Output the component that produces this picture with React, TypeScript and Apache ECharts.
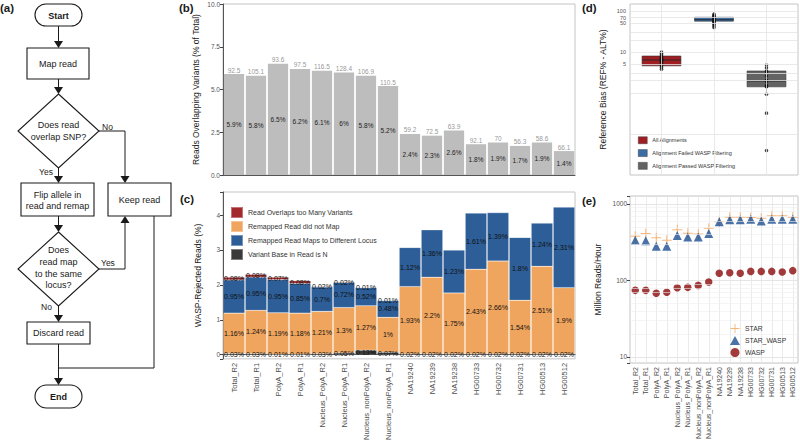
import React, { useEffect, useRef } from 'react';
import * as echarts from 'echarts';

// ---------- data ----------
const samples = ['Total_R2', 'Total_R1', 'PolyA_R2', 'PolyA_R1', 'Nucleus_PolyA_R2', 'Nucleus_PolyA_R1', 'Nucleus_nonPolyA_R2', 'Nucleus_nonPolyA_R1', 'NA19240', 'NA19239', 'NA19238', 'HG00733', 'HG00732', 'HG00731', 'HG00513', 'HG00512'];

// (b) reads overlapping variants (% of total) and total reads (millions)
const overlapPct = [5.9, 5.8, 6.5, 6.2, 6.1, 6, 5.8, 5.2, 2.4, 2.3, 2.6, 1.8, 1.9, 1.7, 1.9, 1.4];
const totalReads = [92.5, 105.1, 93.6, 97.5, 116.5, 128.4, 106.9, 110.5, 59.2, 72.5, 63.9, 92.1, 70, 56.3, 58.6, 66.1];

// (c) WASP-rejected reads (%) by reason
const variantBaseN = [0.03, 0.03, 0.01, 0.01, 0.03, 0.05, 0.13, 0.07, 0.02, 0.02, 0.02, 0.02, 0.02, 0.02, 0.02, 0.02];
const didNotMap = [1.16, 1.24, 1.19, 1.18, 1.21, 1.3, 1.27, 1, 1.93, 2.2, 1.75, 2.43, 2.66, 1.54, 2.51, 1.9];
const differentLocus = [0.95, 0.95, 0.95, 0.85, 0.7, 0.72, 0.52, 0.48, 1.12, 1.36, 1.23, 1.61, 1.39, 1.8, 1.24, 2.31];
const tooManyVariants = [0.08, 0.08, 0.07, 0.08, 0.02, 0.02, 0.01, 0.01, 0, 0, 0, 0, 0, 0, 0, 0];
const rejectNames = ['Read Overlaps too Many Variants', 'Remapped Read did not Map', 'Remapped Read Maps to Different Locus', 'Variant Base in Read is N'];

// (d) reference bias boxes: [min, Q1, median, Q3, max]
const biasGroups = ['All Alignments', 'Alignment Failed WASP Filtering', 'Alignment Passed WASP Filtering'];
const biasBoxAll = [3.8, 4.6, 6.4, 8.0, 10];
const biasBoxFailed = [40, 57, 62, 71, 85];
const biasBoxPassed = [0.93, 1.41, 1.96, 3.44, 4.8];
const biasPtsAll = [10, 9.3, 8.6, 8.0, 7.6, 7.1, 6.8, 6.5, 6.3, 6.0, 5.7, 5.3, 4.9, 4.6, 4.2, 3.8];
const biasPtsFailed = [85, 80, 76, 72, 70, 67, 65, 63, 61, 59, 57, 55, 52, 48, 44, 40];
const biasPtsPassed = [4.8, 4.15, 3.44, 3.3, 2.6, 2.07, 2.0, 1.9, 1.57, 1.45, 1.41, 0.93, 0.32, 0.039];
const biasLabelTicks = [100, 70, 50, 10, 5];

// (e) throughput (million reads / hour)
const starRate = [379, 411, 360, 336, 460, 415, 405, 479, 585, 668, 668, 665, 648, 700, 700, 668];
const starWaspRate = [336, 329, 280, 280, 385, 370, 368, 411, 585, 620, 620, 629, 600, 629, 629, 629];
const waspRate = [74, 74, 68, 70, 80, 81, 86, 95, 124, 126, 124, 131, 131, 131, 129, 134];
const rateMinorGrid = [20, 30, 40, 50, 60, 70, 80, 90, 200, 300, 400, 500, 600, 700, 800, 900];

// ---------- styles ----------
const FONT = '"Liberation Sans", Arial, Helvetica, sans-serif';
const INK = '#1a1a1a';
const C_RED = '#a3292d';
const C_ORANGE = '#f0a55e';
const C_BLUE = '#2d5e98';
const C_DARK = '#3a3a3a';

function txt(text: string, x: number, y: number, size = 9, bold = false, align = 'center') {
  return {
    type: 'text', x, y, z: 10,
    style: {
      text, fill: INK, fontSize: size, fontFamily: FONT, fontWeight: bold ? 'bold' : 'normal',
      textAlign: align, align, textVerticalAlign: 'middle', verticalAlign: 'middle',
    },
  };
}
function pline(points: number[][]) {
  return { type: 'polyline', z: 10, shape: { points }, style: { stroke: INK, lineWidth: 1, fill: null } };
}
function arrow(x: number, y: number, up = false) {
  const pts = up ? [[x - 4.5, y + 7], [x + 4.5, y + 7], [x, y]] : [[x - 4.5, y - 7], [x + 4.5, y - 7], [x, y]];
  return { type: 'polygon', z: 10, shape: { points: pts }, style: { fill: INK } };
}
function box(x: number, y: number, w: number, h: number, r = 0) {
  return { type: 'rect', z: 9, shape: { x, y, width: w, height: h, r }, style: { fill: '#fff', stroke: INK, lineWidth: 1.1 } };
}
function diamond(cx: number, top: number, bottom: number, left: number, right: number) {
  const cy = (top + bottom) / 2;
  return { type: 'polygon', z: 9, shape: { points: [[cx, top], [right, cy], [cx, bottom], [left, cy]] }, style: { fill: '#fff', stroke: INK, lineWidth: 1.1 } };
}

const flowchart = [
  box(35, 4, 47, 22, 11), txt('Start', 58.5, 15.5, 9, true),
  pline([[58.5, 26], [58.5, 42]]), arrow(58.5, 48),
  box(27, 48, 62, 31), txt('Map read', 58, 63.5),
  pline([[58.5, 79], [58.5, 88]]), arrow(58.5, 94),
  diamond(58.5, 94, 168, 18, 99), txt('Does read', 58.5, 125), txt('overlap SNP?', 58.5, 137),
  txt('No', 102, 127, 8.5, false, 'left'), pline([[99, 131], [125, 131], [125, 177]]), arrow(125, 183),
  txt('Yes', 46, 172, 8.5),
  pline([[58.5, 168], [58.5, 177]]), arrow(58.5, 183),
  box(21, 183, 73, 33), txt('Flip allele in', 57.5, 194.5), txt('read and remap', 57.5, 206),
  box(108, 183, 63, 33), txt('Keep read', 139.5, 199.5),
  pline([[58.5, 216], [58.5, 226]]), arrow(58.5, 232),
  diamond(58.5, 232, 306, 18, 99), txt('Does', 58.5, 250), txt('read map', 58.5, 262), txt('to the same', 58.5, 273.5), txt('locus?', 58.5, 285),
  txt('Yes', 101, 263, 8.5, false, 'left'), pline([[99, 269], [125, 269], [125, 222]]), arrow(125, 216, true),
  txt('No', 46.5, 307, 8.5),
  pline([[58.5, 306], [58.5, 316]]), arrow(58.5, 322),
  box(27, 322, 63, 22), txt('Discard read', 58.5, 333),
  pline([[58.5, 344], [58.5, 379]]), arrow(58.5, 385),
  pline([[154, 216], [154, 368], [58.5, 368]]),
  box(35, 385, 47, 23, 11.5), txt('End', 58.5, 396.5, 9, true),
];

const panelLabels = [
  txt('(a)', 0, 8, 11.5, true, 'left'),
  txt('(b)', 179, 8, 11.5, true, 'left'),
  txt('(c)', 180, 199, 11.5, true, 'left'),
  txt('(d)', 582, 8, 11.5, true, 'left'),
  txt('(e)', 582, 201, 11.5, true, 'left'),
];

const plusPath = 'path://M4.5,0H5.5V4.5H10V5.5H5.5V10H4.5V5.5H0V4.5H4.5Z';

function boxRender(params: any, api: any) {
  const x = api.value(0);
  const lo = api.coord([x, api.value(1)]);
  const q1 = api.coord([x, api.value(2)]);
  const med = api.coord([x, api.value(3)]);
  const q3 = api.coord([x, api.value(4)]);
  const hi = api.coord([x, api.value(5)]);
  const l = api.coord([x - 0.37, api.value(3)])[0];
  const r = api.coord([x + 0.37, api.value(3)])[0];
  const color = api.visual('color');
  return {
    type: 'group',
    children: [
      { type: 'line', shape: { x1: lo[0], y1: lo[1], x2: q1[0], y2: q1[1] }, style: { stroke: '#333', lineWidth: 1 } },
      { type: 'line', shape: { x1: q3[0], y1: q3[1], x2: hi[0], y2: hi[1] }, style: { stroke: '#333', lineWidth: 1 } },
      { type: 'rect', shape: { x: l, y: q3[1], width: r - l, height: Math.max(q1[1] - q3[1], 1) }, style: { fill: color, stroke: '#333', lineWidth: 0.6 } },
      { type: 'line', shape: { x1: l, y1: med[1], x2: r, y2: med[1] }, style: { stroke: '#2a2a2a', lineWidth: 1.1 } },
    ],
  };
}

const pctLabel = (p: any) => {
  const v = Array.isArray(p.value) ? p.value[1] : p.value;
  return v > 0 ? `${v}%` : '';
};

export default function App() {
  const ref = useRef<HTMLDivElement>(null);
  useEffect(() => {
    document.body.style.margin = '0';
    if (!ref.current) return;
    const chart = echarts.init(ref.current, undefined, { renderer: 'svg' });

    const axisNameStyle = { fontSize: 8.5, color: '#222', fontFamily: FONT };
    const tickLabel = { fontSize: 6.5, color: '#555', fontFamily: FONT, margin: 3 };

    const cSeries = [
      { name: rejectNames[3], data: variantBaseN, color: C_DARK },
      { name: rejectNames[1], data: didNotMap, color: C_ORANGE },
      { name: rejectNames[2], data: differentLocus, color: C_BLUE },
      { name: rejectNames[0], data: tooManyVariants, color: C_RED },
    ].map((s) => ({
      type: 'bar', name: s.name, data: s.data, stack: 'rej', xAxisIndex: 1, yAxisIndex: 1,
      barCategoryGap: '2%',
      itemStyle: { color: s.color, borderColor: 'rgba(255,255,255,0.35)', borderWidth: 0.5 },
      label: { show: true, position: 'inside', formatter: pctLabel, fontSize: 7, color: '#111', fontFamily: FONT },
    }));

    const biasBoxes = [biasBoxAll, biasBoxFailed, biasBoxPassed];
    const biasColors = ['#a01d22', '#3b6ea5', '#636363'];
    const dSeries = biasGroups.map((g, i) => ({
      type: 'custom', name: g, xAxisIndex: 2, yAxisIndex: 2, z: 3,
      itemStyle: { color: biasColors[i] },
      encode: { x: 0, y: [1, 2, 3, 4, 5] },
      data: [[i + 1, ...biasBoxes[i]]],
      renderItem: boxRender,
    }));
    const biasPts = [biasPtsAll, biasPtsFailed, biasPtsPassed];
    const dPoints = {
      type: 'scatter', name: 'bias points', xAxisIndex: 2, yAxisIndex: 2, z: 4,
      symbolSize: 3.5, itemStyle: { color: '#111' },
      data: biasPts.flatMap((arr, i) => arr.map((v) => [i + 1, v])),
    };
    const dGrid = {
      type: 'line', name: 'd grid', xAxisIndex: 2, yAxisIndex: 2, z: 1, data: [], silent: true,
      markLine: {
        silent: true, symbol: ['none', 'none'], animation: false,
        lineStyle: { color: '#e3e3e3', width: 0.8, type: 'solid' },
        label: { show: true, position: 'start', fontSize: 5.5, color: '#555', fontFamily: FONT, distance: 4 },
        data: [
          ...biasLabelTicks.map((v) => ({ yAxis: v, label: { formatter: String(v) } })),
          ...[1, 0.1, 30, 20, 3, 2].map((v) => ({ yAxis: v, label: { show: false } })),
          ...[1, 2, 3].map((v) => ({ xAxis: v, label: { show: false } })),
        ],
      },
    };

    const eGrid = {
      type: 'line', name: 'e grid', xAxisIndex: 3, yAxisIndex: 3, z: 1, data: [], silent: true,
      markLine: {
        silent: true, symbol: ['none', 'none'], animation: false,
        lineStyle: { color: '#eeeeee', width: 0.6, type: 'solid' },
        label: { show: false },
        data: rateMinorGrid.map((v) => ({ yAxis: v })),
      },
    };

    const option: any = {
      animation: false,
      textStyle: { fontFamily: FONT },
      graphic: [...flowchart, ...panelLabels],
      grid: [
        { left: 223, top: 4, width: 352, height: 171, show: true, borderColor: '#c4c4c4', borderWidth: 1 },
        { left: 223, top: 192, width: 352, height: 174, show: true, borderColor: '#c4c4c4', borderWidth: 1 },
        { left: 630, top: 4, width: 168, height: 171, show: true, borderColor: '#c4c4c4', borderWidth: 1 },
        { left: 630, top: 196, width: 168, height: 167, show: true, borderColor: '#c4c4c4', borderWidth: 1 },
      ],
      legend: [
        {
          data: rejectNames, left: 230, top: 206, orient: 'vertical', itemWidth: 12, itemHeight: 11, itemGap: 1,
          icon: 'rect', padding: 0, textStyle: { fontSize: 7, color: '#333', fontFamily: FONT }, selectedMode: false,
        },
        {
          data: biasGroups, left: 638, top: 136.5, orient: 'vertical', itemWidth: 9, itemHeight: 7, itemGap: 5.3,
          icon: 'rect', padding: 0, itemStyle: { borderColor: '#444', borderWidth: 0.5 },
          textStyle: { fontSize: 5.5, color: '#333', fontFamily: FONT }, selectedMode: false,
        },
        {
          data: ['STAR', 'STAR_WASP', 'WASP'], left: 730, top: 324, orient: 'vertical', itemWidth: 10, itemHeight: 9, itemGap: 3,
          padding: 0, textStyle: { fontSize: 6.8, color: '#333', fontFamily: FONT }, selectedMode: false,
        },
      ],
      xAxis: [
        { type: 'category', gridIndex: 0, data: samples, axisLabel: { show: false }, axisTick: { show: false }, axisLine: { lineStyle: { color: '#555' } } },
        {
          type: 'category', gridIndex: 1, data: samples,
          axisLabel: { rotate: 90, fontSize: 7.5, color: '#4d4d4d', fontFamily: FONT, margin: 4, interval: 0 },
          axisTick: { length: 3, alignWithLabel: true, lineStyle: { color: '#444' } }, axisLine: { lineStyle: { color: '#444' } },
        },
        { type: 'value', gridIndex: 2, min: 0.4, max: 3.6, show: false, splitLine: { show: false } },
        {
          type: 'category', gridIndex: 3, data: samples,
          axisLabel: { rotate: 90, fontSize: 7, color: '#4d4d4d', fontFamily: FONT, margin: 4, interval: 0 },
          axisTick: { length: 3, alignWithLabel: true, lineStyle: { color: '#444' } }, axisLine: { show: false },
          splitLine: { show: true, alignWithLabel: true, lineStyle: { color: '#e6e6e6', width: 0.8 } },
        },
      ],
      yAxis: [
        {
          type: 'value', gridIndex: 0, min: 0, max: 10, interval: 2.5,
          axisLabel: { ...tickLabel, formatter: (v: number) => v.toFixed(1) },
          axisTick: { show: true, length: 3, lineStyle: { color: '#444' } }, axisLine: { show: true, lineStyle: { color: '#555' } },
          splitLine: { show: false },
          name: 'Reads Overlapping Variants (% of Total)', nameLocation: 'middle', nameGap: 23, nameTextStyle: axisNameStyle,
        },
        {
          type: 'value', gridIndex: 1, min: -0.12, max: 4.66,
          axisLabel: { ...tickLabel, formatter: (v: number) => (Math.abs(v - Math.round(v)) < 1e-6 ? String(Math.round(v)) : '') },
          axisTick: { show: true, length: 3, lineStyle: { color: '#444' } }, axisLine: { show: true, lineStyle: { color: '#555' } },
          splitLine: { show: false },
          name: 'WASP-Rejected Reads (%)', nameLocation: 'middle', nameGap: 21, nameTextStyle: axisNameStyle,
        },
        {
          type: 'log', logBase: 10, gridIndex: 2, min: 0.0098, max: 150,
          axisLabel: { show: false }, axisTick: { show: false }, axisLine: { show: false }, splitLine: { show: false },
          name: 'Reference Bias (REF% - ALT%)', nameLocation: 'middle', nameGap: 23, nameTextStyle: axisNameStyle,
        },
        {
          type: 'log', logBase: 10, gridIndex: 3, min: 8.3, max: 1270,
          axisLabel: {
            ...tickLabel,
            formatter: (v: number) => {
              const r = Math.round(v);
              return [10, 100, 1000].includes(r) && Math.abs(v - r) < 0.01 * r ? String(r) : '';
            },
          },
          axisTick: { show: true, length: 3, lineStyle: { color: '#444' } }, axisLine: { show: false },
          splitLine: { show: true, lineStyle: { color: '#dedede', width: 0.8 } },
          name: 'Million Reads/Hour', nameLocation: 'middle', nameGap: 28, nameTextStyle: axisNameStyle,
        },
      ],
      series: [
        {
          type: 'bar', name: 'overlap', data: overlapPct, xAxisIndex: 0, yAxisIndex: 0, barCategoryGap: '8%',
          itemStyle: { color: '#bdbdbd' },
          label: { show: true, position: 'inside', formatter: pctLabel, fontSize: 6.5, color: '#222', fontFamily: FONT },
        },
        {
          type: 'scatter', name: 'reads', data: overlapPct, xAxisIndex: 0, yAxisIndex: 0, symbolSize: 1,
          itemStyle: { color: 'rgba(0,0,0,0)' },
          label: { show: true, position: 'top', distance: 0, formatter: (p: any) => String(totalReads[p.dataIndex]), fontSize: 6.5, color: '#7a7a7a', fontFamily: FONT },
        },
        ...cSeries,
        dGrid,
        ...dSeries,
        dPoints,
        eGrid,
        { type: 'scatter', name: 'STAR', data: starRate, xAxisIndex: 3, yAxisIndex: 3, symbol: plusPath, symbolSize: 10, itemStyle: { color: '#f4a259' }, z: 3 },
        { type: 'scatter', name: 'STAR_WASP', data: starWaspRate, xAxisIndex: 3, yAxisIndex: 3, symbol: 'triangle', symbolSize: 9, itemStyle: { color: '#1d4f91' }, z: 4 },
        { type: 'scatter', name: 'WASP', data: waspRate, xAxisIndex: 3, yAxisIndex: 3, symbol: 'circle', symbolSize: 7.5, itemStyle: { color: '#8b0b0b' }, z: 4 },
      ],
    };
    chart.setOption(option);
    return () => chart.dispose();
  }, []);
  return <div ref={ref} style={{ width: 800, height: 443 }} />;
}
